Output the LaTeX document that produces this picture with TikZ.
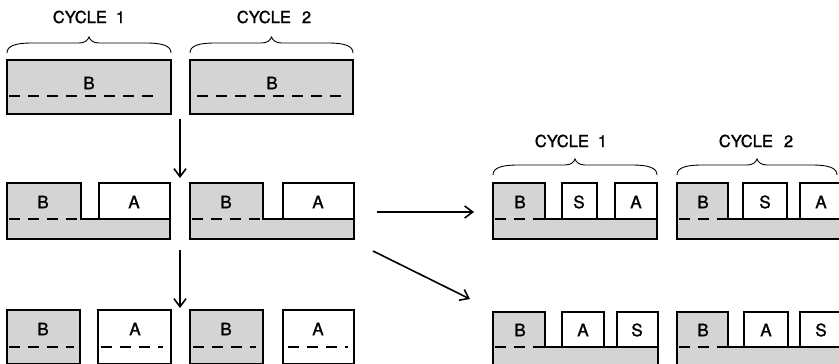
\documentclass[tikz,border=0pt]{standalone}
\usepackage{fontspec}
\setmainfont{TeX Gyre Heros}
\newfontfamily\lettfont[FakeBold=1.3]{TeX Gyre Heros}
\usetikzlibrary{arrows.meta}
\tikzset{
  box/.style={draw, line width=1.7pt, line join=miter},
  shaded/.style={fill=black!17},
  dline/.style={line width=1.7pt, dash pattern=on 11pt off 8pt},
  arr/.style={line width=1.6pt, -{Straight Barb[length=8pt,width=12pt,line width=1.6pt]}},
  lbl/.style={font=\lettfont\fontsize{17}{19}\selectfont, inner sep=0pt},
  cyc/.style={font=\lettfont\fontsize{16.5}{19}\selectfont, inner sep=0pt},
  bracestyle/.style={line width=0.9pt},
}
\newcommand\mybrace[3]{%
  \pgfmathsetmacro\xm{(#1+#2)/2}
  \draw[bracestyle] (#1,#3) .. controls (#1,#3-7) and (#1+8,#3-10) .. (#1+25,#3-10)
    -- (\xm-10,#3-10) .. controls (\xm-4,#3-10) and (\xm-1,#3-13) .. (\xm,#3-16)
    .. controls (\xm+1,#3-13) and (\xm+4,#3-10) .. (\xm+10,#3-10)
    -- (#2-25,#3-10) .. controls (#2-8,#3-10) and (#2,#3-7) .. (#2,#3);
}
\begin{document}
\begin{tikzpicture}[x=1pt,y=-1pt]
\useasboundingbox (0,0) rectangle (839,364);
\clip (0,0) rectangle (839,364);

% ---------- row 1 ----------
\node[cyc] (c1l) at (89,17) {CYCLE\hspace{9pt}1};
\node[cyc] (c2l) at (274,17) {CYCLE\hspace{11pt}2};
\mybrace{7}{171}{53}
\mybrace{190}{353}{53}
\draw[box, shaded] (7,60) rectangle (171,114);
\draw[box, shaded] (190,60) rectangle (353,114);
\draw[dline] (9,96) -- (160,96);
\draw[dline] (197,96) -- (346,96);
\node[lbl] (r1b1) at (89,83) {B};
\node[lbl] (r1b2) at (272,83) {B};

% ---------- row 2 left ----------
\draw[box, shaded] (7,183) -- (81,183) -- (81,219) -- (170,219) -- (170,239) -- (7,239) -- cycle;
\draw[box, fill=white] (99,183) rectangle (170,219);
\draw[dline] (9,219) -- (81,219);
\node[lbl] (r2b1) at (43,202) {B};
\node[lbl] (r2a1) at (134,202) {A};

\draw[box, shaded] (190,183) -- (263,183) -- (263,219) -- (354,219) -- (354,239) -- (190,239) -- cycle;
\draw[box, fill=white] (283,183) rectangle (354,219);
\draw[dline] (192,219) -- (263,219);
\node[lbl] (r2b2) at (226,202) {B};
\node[lbl] (r2a2) at (318,202) {A};

% ---------- row 3 left ----------
\draw[box, shaded] (7,310) rectangle (80,364);
\draw[box, fill=white] (98,310) rectangle (171,364);
\draw[box, shaded] (190,310) rectangle (263,364);
\draw[box, fill=white] (283,310) rectangle (354,364);
\draw[dline] (9,347) -- (74,347);
\draw[dline] (101,347) -- (163,347);
\draw[dline] (193,347) -- (256,347);
\draw[dline] (288,347) -- (348,347);
\node[lbl] (r3b1) at (43,329) {B};
\node[lbl] (r3a1) at (135,329) {A};
\node[lbl] (r3b2) at (226,329) {B};
\node[lbl] (r3a2) at (318,329) {A};

% ---------- right, row 2 ----------
\node[cyc] (c1r) at (571,141) {CYCLE\hspace{9pt}1};
\node[cyc] (c2r) at (756,141) {CYCLE\hspace{11pt}2};
\mybrace{493}{657}{175}
\mybrace{677}{837}{175}

\draw[box, shaded] (493,183) -- (545,183) -- (545,219) -- (657,219) -- (657,239) -- (493,239) -- cycle;
\draw[box, fill=white] (562,183) rectangle (597,219);
\draw[box, fill=white] (615,183) rectangle (657,219);
\draw[dline] (495,219) -- (545,219);
\node[lbl] (rb1) at (520,202) {B};
\node[lbl] (rs1) at (579,202) {S};
\node[lbl] (ra1) at (636,202) {A};

\draw[box, shaded] (677,183) -- (728,183) -- (728,219) -- (842,219) -- (842,239) -- (677,239) -- cycle;
\draw[box, fill=white] (743,183) rectangle (787,219);
\draw[box, fill=white] (800,183) rectangle (842,219);
\draw[dline] (679,219) -- (728,219);
\node[lbl] (rb2) at (703,202) {B};
\node[lbl] (rs2) at (765,202) {S};
\node[lbl] (ra2) at (821,202) {A};

% ---------- right, row 3 ----------
\draw[box, shaded] (493,312) -- (545,312) -- (545,347) -- (658,347) -- (658,368) -- (493,368) -- cycle;
\draw[box, fill=white] (562,312) rectangle (604,347);
\draw[box, fill=white] (617,312) rectangle (658,347);
\draw[dline] (495,347) -- (545,347);
\node[lbl] (sb1) at (520,330) {B};
\node[lbl] (sa1) at (583,330) {A};
\node[lbl] (ss1) at (637,330) {S};

\draw[box, shaded] (677,312) -- (728,312) -- (728,347) -- (842,347) -- (842,368) -- (677,368) -- cycle;
\draw[box, fill=white] (744,312) rectangle (788,347);
\draw[box, fill=white] (800,312) rectangle (842,347);
\draw[dline] (679,347) -- (728,347);
\node[lbl] (sb2) at (703,330) {B};
\node[lbl] (sa2) at (766,330) {A};
\node[lbl] (ss2) at (821,330) {S};

% ---------- arrows ----------
\coordinate (a1s) at (180,119);
\coordinate (a1e) at (180,178);
\coordinate (a2s) at (180,250);
\coordinate (a2e) at (180,308);
\coordinate (a3s) at (377,212);
\coordinate (a3e) at (474,212);
\coordinate (a4s) at (373,251);
\coordinate (a4e) at (470,299);
\draw[arr] (a1s) -- (a1e);
\draw[arr] (a2s) -- (a2e);
\draw[arr] (a3s) -- (a3e);
\draw[arr] (a4s) -- (a4e);
\end{tikzpicture}
\end{document}
